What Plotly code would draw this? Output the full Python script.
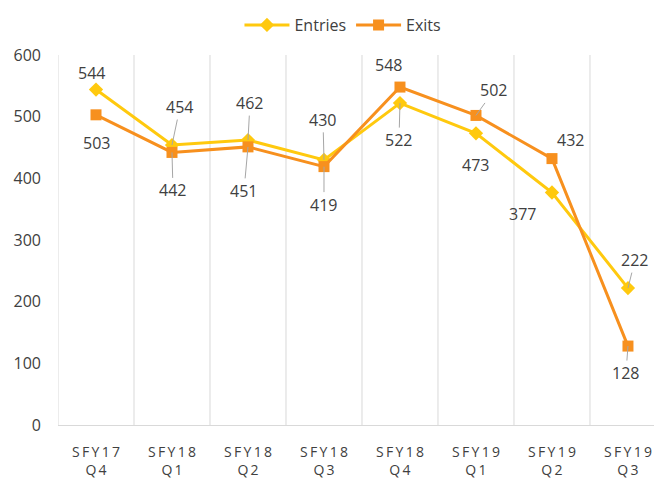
import plotly.graph_objects as go

categories = ["SFY17<br>Q4", "SFY18<br>Q1", "SFY18<br>Q2", "SFY18<br>Q3",
              "SFY18<br>Q4", "SFY19<br>Q1", "SFY19<br>Q2", "SFY19<br>Q3"]
entries = [544, 454, 462, 430, 522, 473, 377, 222]
exits = [503, 442, 451, 419, 548, 502, 432, 128]

# label offsets (px) and whether a leader line is drawn
entries_off = [(-5, -17, False), (8, -38, True), (2, -37, True), (-1, -40, True),
               (-1, 37, True), (0, 32, False), (-29, 21, False), (7, -28, True)]
exits_off = [(0, 28, False), (1, 38, True), (-4, 44, True), (0, 38, True),
             (-11, -22, False), (18, -25, True), (19, -19, False), (-2, 27, True)]

def spaced(label):
    return "<br>".join("\u2009".join(part) for part in label.split("<br>"))

tick_text = [spaced(c) for c in categories]
xs = list(range(len(categories)))

yellow = "#FFC90E"
orange = "#F7901E"
txt = "#404040"
font = "Open Sans"

fig = go.Figure()
fig.add_trace(go.Scatter(x=xs, y=entries, name="Entries", mode="lines+markers",
                         line=dict(color=yellow, width=3),
                         marker=dict(symbol="diamond", size=11, color=yellow)))
fig.add_trace(go.Scatter(x=xs, y=exits, name="Exits", mode="lines+markers",
                         line=dict(color=orange, width=3),
                         marker=dict(symbol="square", size=11, color=orange)))

ann = []
for vals, offs in ((entries, entries_off), (exits, exits_off)):
    for i, (v, (dx, dy, lead)) in enumerate(zip(vals, offs)):
        ann.append(dict(x=xs[i], y=v, text=str(v), showarrow=True, ax=dx, ay=dy,
                        arrowhead=0, arrowwidth=1, standoff=0,
                        arrowcolor="#A6A6A6" if lead else "rgba(0,0,0,0)",
                        font=dict(family=font, size=16, color=txt)))

# vertical gridlines at category boundaries
for b in [x - 0.5 for x in xs]:
    fig.add_shape(type="line", x0=b, x1=b, y0=0, y1=1, yref="paper",
                  line=dict(color="#D9D9D9", width=1), layer="below")

fig.update_layout(
    width=662, height=481,
    margin=dict(l=50, r=0, t=47, b=64, autoexpand=False),
    plot_bgcolor="white", paper_bgcolor="white",
    font=dict(family=font, color=txt, size=13),
    annotations=ann,
    showlegend=True,
    legend=dict(orientation="h", x=0.506, xanchor="center", xref="container",
                y=1, yanchor="top", yref="container",
                itemwidth=45, font=dict(family=font, size=16, color=txt)),
    xaxis=dict(range=[-0.5, 7.553], tickmode="array", tickvals=xs, ticktext=tick_text,
               showgrid=False, zeroline=False, showline=True, linecolor="#D9D9D9",
               ticks="", automargin=False, ticklabelstandoff=14,
               tickfont=dict(family=font, size=14, color=txt)),
    yaxis=dict(range=[0, 600], dtick=100, showgrid=False, zeroline=False,
               showline=False, ticks="", ticklabelstandoff=16, automargin=False,
               tickfont=dict(family=font, size=16, color=txt)),
)

fig.write_html("out.html")
